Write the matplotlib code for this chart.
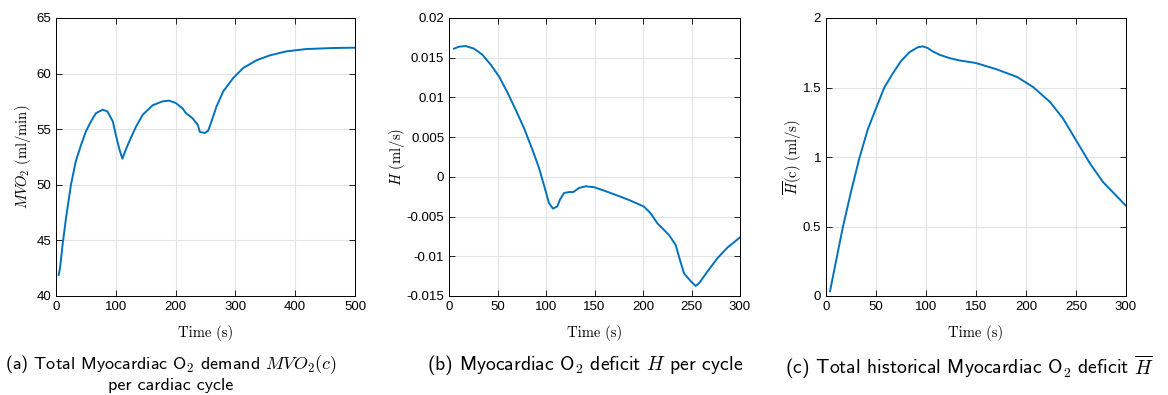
import matplotlib.pyplot as plt

plt.rcParams['mathtext.fontset'] = 'cm'
plt.rcParams['font.family'] = ['Liberation Sans', 'DejaVu Sans']

# Panel (a): total myocardial O2 demand per cycle
t_mvo2 = [4.5, 6.7, 11, 16.7, 25, 33, 42, 50, 58.5, 67, 78, 86, 95, 100, 106, 111, 117,
          125, 134, 145, 161.5, 178, 189, 200.5, 212, 217, 228, 237, 240.6, 249, 254.5,
          260, 268.5, 279.7, 296.3, 313, 335.3, 357.6, 385.4, 418.8, 463.4, 500]
mvo2 = [41.9, 42.5, 44.6, 47.0, 50.0, 52.1, 53.6, 54.8, 55.7, 56.45, 56.75, 56.6, 55.7,
        54.5, 53.2, 52.35, 53.2, 54.2, 55.25, 56.3, 57.15, 57.5, 57.57, 57.35, 56.85,
        56.45, 56.0, 55.4, 54.75, 54.66, 54.87, 55.7, 57.06, 58.4, 59.6, 60.5, 61.2,
        61.64, 62.0, 62.21, 62.3, 62.33]

# Panel (b): O2 deficit per cycle
t_h = [5.2, 10.3, 17.2, 25.8, 34.4, 43, 51.5, 60, 68.7, 77.3, 86, 92.8, 99.7, 103, 107.2,
       111.7, 114.4, 118.6, 123.7, 128.2, 134, 141, 149.5, 163, 176.9, 187.3, 201, 207.9,
       214.8, 220, 226.8, 233.7, 238.1, 242.3, 249.1, 254.3, 257.7, 266.3, 276.6, 286.9,
       300]
h = [0.01614, 0.01639, 0.01647, 0.01614, 0.01538, 0.01412, 0.01266, 0.01068, 0.00846,
     0.00615, 0.00342, 0.00112, -0.00182, -0.00329, -0.0040, -0.00371, -0.00287, -0.00203,
     -0.00191, -0.00191, -0.00140, -0.00119, -0.00130, -0.00187, -0.00250, -0.00300,
     -0.00375, -0.00459, -0.00585, -0.00648, -0.00732, -0.00858, -0.01047, -0.01215,
     -0.01312, -0.01374, -0.01341, -0.01194, -0.01026, -0.00892, -0.00762]

# Panel (c): total historical O2 deficit
t_hbar = [4, 10, 16.7, 25, 33.3, 41.7, 50, 58.3, 66.7, 75, 83.3, 91.7, 96.7, 101.7, 106.7,
          113.3, 123.3, 133.3, 150, 171, 191, 207, 224, 237, 251, 264, 277, 300]
hbar = [0.034, 0.25, 0.49, 0.75, 0.99, 1.197, 1.35, 1.50, 1.60, 1.69, 1.753, 1.789, 1.796,
        1.784, 1.760, 1.736, 1.712, 1.695, 1.676, 1.63, 1.576, 1.504, 1.396, 1.277, 1.109,
        0.953, 0.82, 0.649]

line_color = '#0072BD'

fig = plt.figure(figsize=(11.68, 3.95), dpi=100)
W, H = 1168, 395
boxes = [(56, 355), (449, 740), (826, 1126)]
top, bottom = 18, 296
axes = [fig.add_axes([l / W, 1 - bottom / H, (r - l) / W, (bottom - top) / H]) for l, r in boxes]

series = [(t_mvo2, mvo2), (t_h, h), (t_hbar, hbar)]
xlims = [(0, 500), (0, 300), (0, 300)]
ylims = [(40, 65), (-0.015, 0.02), (0, 2)]
xticks = [[0, 100, 200, 300, 400, 500], [0, 50, 100, 150, 200, 250, 300], [0, 50, 100, 150, 200, 250, 300]]
yticks = [[40, 45, 50, 55, 60, 65],
          [-0.015, -0.01, -0.005, 0, 0.005, 0.01, 0.015, 0.02],
          [0, 0.5, 1, 1.5, 2]]
ytick_labels = [['40', '45', '50', '55', '60', '65'],
                ['-0.015', '-0.01', '-0.005', '0', '0.005', '0.01', '0.015', '0.02'],
                ['0', '0.5', '1', '1.5', '2']]
ylabels = [r'$MVO_2$ (ml/min)', r'$H$ (ml/s)', r'$\overline{H}$(c) (ml/s)']
ylabel_x = [-0.077, -0.144, -0.073]
captions = [r'(a) Total Myocardiac $\mathsf{O_2}$ demand $MVO_2(c)$' + '\nper cardiac cycle',
            r'(b) Myocardiac $\mathsf{O_2}$ deficit $H$ per cycle',
            r'(c) Total historical Myocardiac $\mathsf{O_2}$ deficit $\overline{H}$']
caption_x = [171, 585, 969]
caption_size = [13, 14.2, 14.2]

for i, ax in enumerate(axes):
    x, y = series[i]
    ax.plot(x, y, color=line_color, linewidth=1.4)
    ax.set_xlim(*xlims[i])
    ax.set_ylim(*ylims[i])
    ax.set_xticks(xticks[i])
    ax.set_yticks(yticks[i])
    ax.set_yticklabels(ytick_labels[i])
    ax.grid(True, color='#e3e3e3', linewidth=0.8)
    ax.set_axisbelow(True)
    ax.tick_params(direction='in', top=True, right=True, labelsize=9.5, length=4, width=0.6)
    for s in ax.spines.values():
        s.set_linewidth(0.7)
    ax.set_xlabel('Time (s)', family='cmr10', fontsize=10.5, labelpad=8.5)
    ax.set_ylabel(ylabels[i], family='cmr10', fontsize=10.5)
    ax.yaxis.set_label_coords(ylabel_x[i], 0.5)
    fig.text(caption_x[i] / W, 1 - 353 / H, captions[i], ha='center', va='top',
             family='cmss10', fontsize=caption_size[i], linespacing=1.2)

fig.savefig('out.png', dpi=100)
